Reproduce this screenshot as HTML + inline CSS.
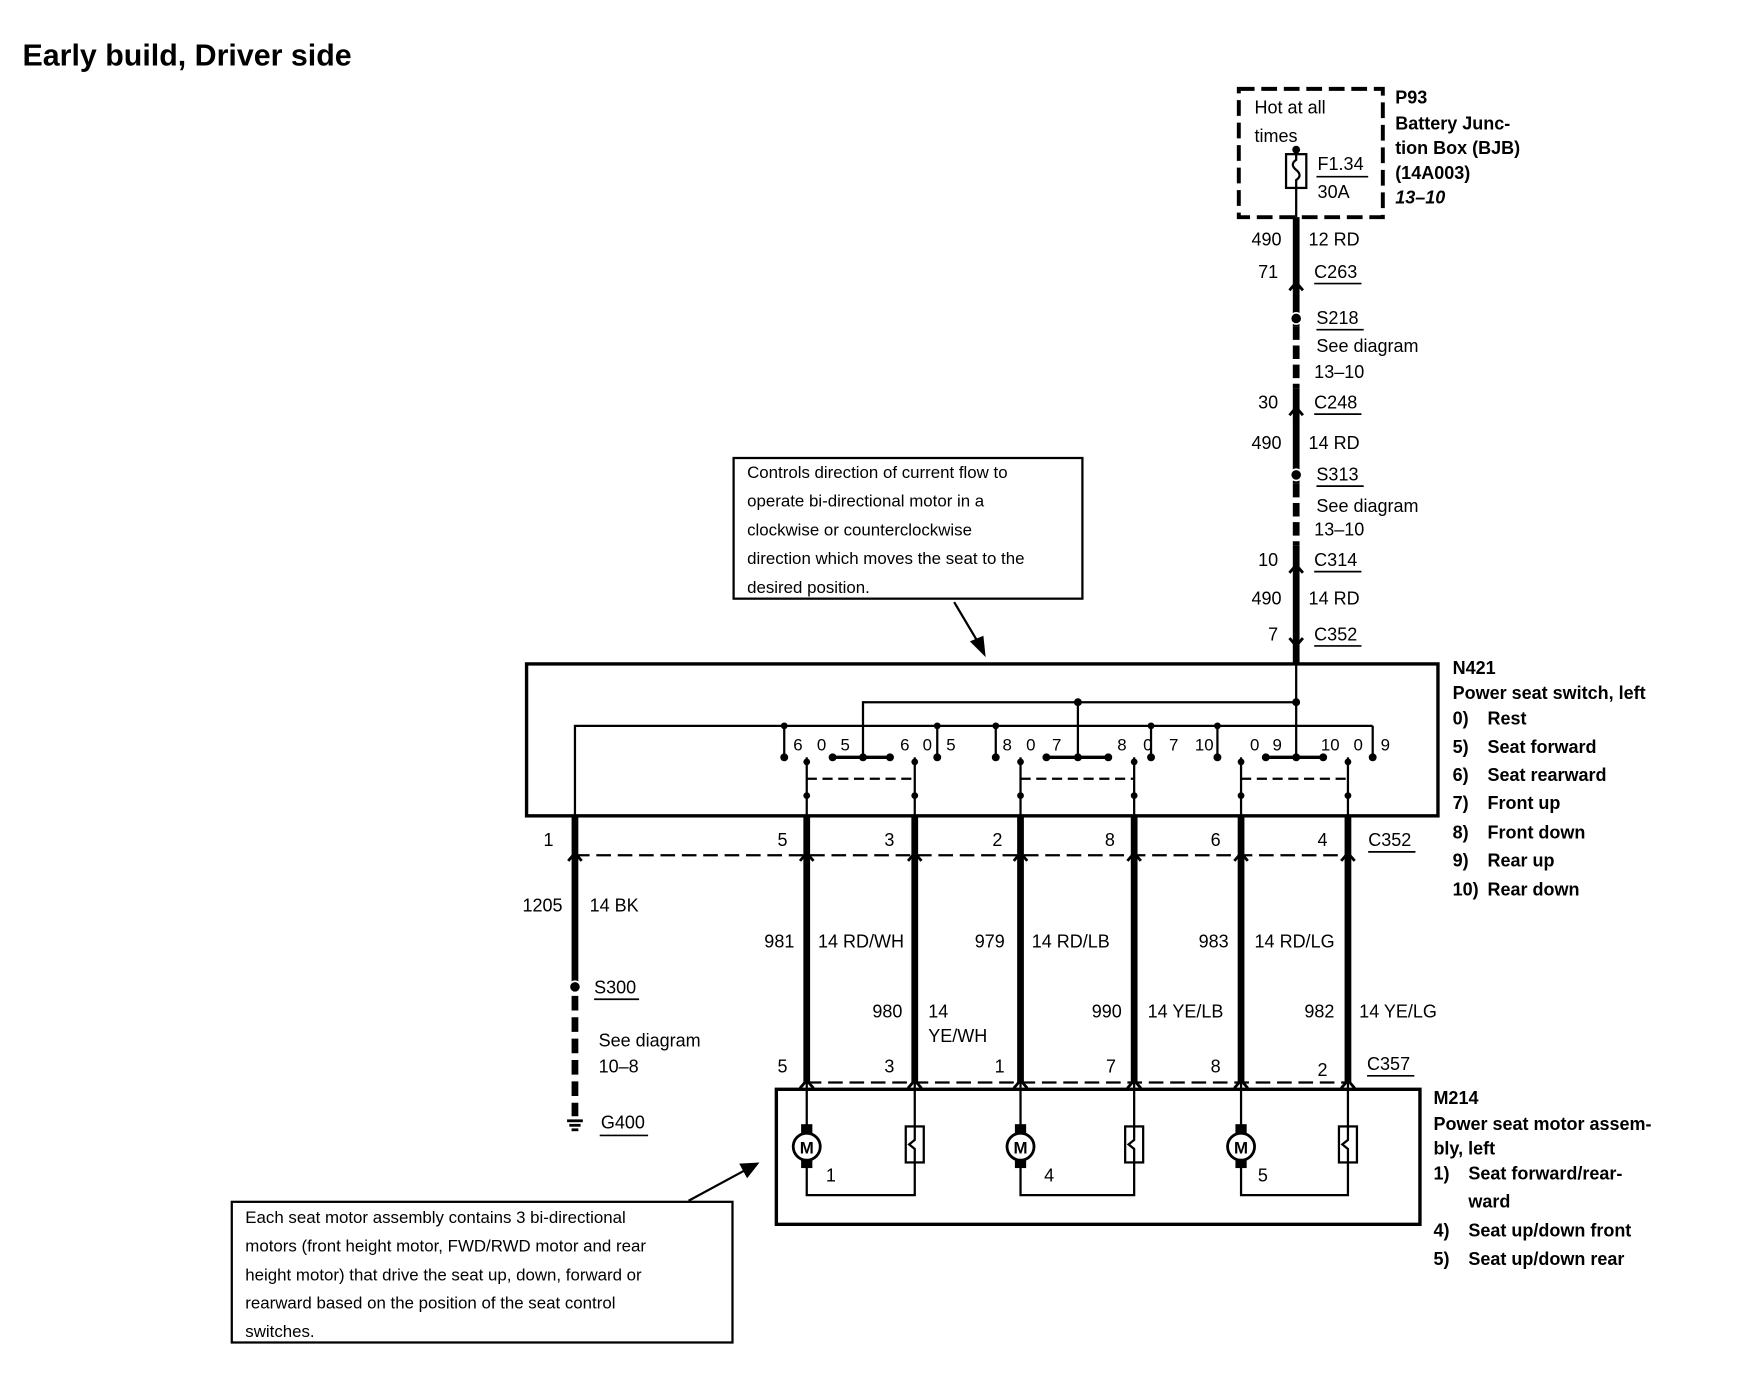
<!DOCTYPE html>
<html><head><meta charset="utf-8"><style>
html,body{margin:0;padding:0;background:#fff;width:1762px;height:1392px;overflow:hidden}
svg{display:block}
text{font-family:"Liberation Sans",sans-serif;fill:#000}
.t{font-size:16px}
.b{font-size:16px;font-weight:bold}
.s{font-size:15px}
</style></head><body>
<svg width="1762" height="1392" viewBox="0 0 1566 1237" preserveAspectRatio="none" xmlns="http://www.w3.org/2000/svg">
<text x="20" y="58" style="font-size:27px;font-weight:bold">Early build, Driver side</text>

<!-- BJB -->
<rect x="1101" y="79" width="128" height="114" fill="none" stroke="#000" stroke-width="3.5" stroke-dasharray="14,6"/>
<text class="t" x="1115" y="101">Hot at all</text>
<text class="t" x="1115" y="126">times</text>
<circle cx="1152" cy="133" r="3.5"/>
<rect x="1143" y="137" width="18" height="30" fill="none" stroke="#000" stroke-width="2"/>
<path d="M1152 133 V142 Q1146 146 1152 151 Q1158 156 1152 160 V193" fill="none" stroke="#000" stroke-width="2"/>
<text class="t" x="1171" y="151">F1.34</text>
<line x1="1170" y1="157" x2="1216" y2="157" stroke="#000" stroke-width="1.5"/>
<text class="t" x="1171" y="176">30A</text>
<text class="b" x="1240" y="92">P93</text>
<text class="b" x="1240" y="115">Battery Junc-</text>
<text class="b" x="1240" y="137">tion Box (BJB)</text>
<text class="b" x="1240" y="159">(14A003)</text>
<text class="b" x="1240" y="181" font-style="italic">13–10</text>

<!-- main feed wire -->
<g stroke="#000" stroke-width="6" fill="none">
<line x1="1152" y1="193" x2="1152" y2="290"/>
<line x1="1152" y1="290" x2="1152" y2="345" stroke-dasharray="12,5"/>
<line x1="1152" y1="345" x2="1152" y2="430"/>
<line x1="1152" y1="430" x2="1152" y2="485" stroke-dasharray="12,5"/>
<line x1="1152" y1="485" x2="1152" y2="590"/>
</g>
<g stroke="#000" stroke-width="2.5" fill="none">
<polyline points="1146,258 1152,251 1158,258"/>
<polyline points="1146,369 1152,362 1158,369"/>
<polyline points="1146,509 1152,502 1158,509"/>
<polyline points="1146,567 1152,574 1158,567"/>
</g>
<circle cx="1152" cy="283" r="5" stroke="#fff" stroke-width="1.5"/>
<circle cx="1152" cy="422" r="5" stroke="#fff" stroke-width="1.5"/>
<g class="t">
<text class="t" x="1139" y="218" text-anchor="end">490</text><text class="t" x="1163" y="218">12 RD</text>
<text class="t" x="1136" y="247" text-anchor="end">71</text><text class="t" x="1168" y="247">C263</text>
<text class="t" x="1170" y="288">S218</text>
<text class="t" x="1170" y="313">See diagram</text>
<text class="t" x="1168" y="336">13–10</text>
<text class="t" x="1136" y="363" text-anchor="end">30</text><text class="t" x="1168" y="363">C248</text>
<text class="t" x="1139" y="399" text-anchor="end">490</text><text class="t" x="1163" y="399">14 RD</text>
<text class="t" x="1170" y="427">S313</text>
<text class="t" x="1170" y="455">See diagram</text>
<text class="t" x="1168" y="476">13–10</text>
<text class="t" x="1136" y="503" text-anchor="end">10</text><text class="t" x="1168" y="503">C314</text>
<text class="t" x="1139" y="537" text-anchor="end">490</text><text class="t" x="1163" y="537">14 RD</text>
<text class="t" x="1136" y="569" text-anchor="end">7</text><text class="t" x="1168" y="569">C352</text>
</g>
<g stroke="#000" stroke-width="1.5">
<line x1="1168" y1="252" x2="1210" y2="252"/>
<line x1="1170" y1="293" x2="1212" y2="293"/>
<line x1="1168" y1="368" x2="1210" y2="368"/>
<line x1="1170" y1="432" x2="1212" y2="432"/>
<line x1="1168" y1="508" x2="1210" y2="508"/>
<line x1="1168" y1="574" x2="1210" y2="574"/>
</g>

<!-- note 1 -->
<rect x="652" y="407" width="310" height="125" fill="none" stroke="#000" stroke-width="2"/>
<text class="s" x="664" y="425">Controls direction of current flow to</text>
<text class="s" x="664" y="450">operate bi-directional motor in a</text>
<text class="s" x="664" y="476">clockwise or counterclockwise</text>
<text class="s" x="664" y="501">direction which moves the seat to the</text>
<text class="s" x="664" y="527">desired position.</text>
<line x1="848" y1="535" x2="870" y2="572" stroke="#000" stroke-width="2"/>
<polygon points="876,584 862,570 874,565"/>

<!-- N421 box -->
<rect x="468" y="590" width="810" height="135" fill="none" stroke="#000" stroke-width="3"/>
<g stroke="#000" stroke-width="2" fill="none">
<polyline points="767,673 767,624 1152,624"/>
<line x1="958" y1="624" x2="958" y2="673"/>
<line x1="1152" y1="590" x2="1152" y2="673"/>
<polyline points="511,725 511,645 1220,645"/>
<line x1="697" y1="645" x2="697" y2="673"/>
<line x1="833" y1="645" x2="833" y2="673"/>
<line x1="885" y1="645" x2="885" y2="673"/>
<line x1="1023" y1="645" x2="1023" y2="673"/>
<line x1="1082" y1="645" x2="1082" y2="673"/>
<line x1="1220" y1="645" x2="1220" y2="673"/>
<line x1="740" y1="673" x2="791" y2="673" stroke-width="3"/>
<line x1="930" y1="673" x2="985" y2="673" stroke-width="3"/>
<line x1="1125" y1="673" x2="1176" y2="673" stroke-width="3"/>
<line x1="717" y1="673" x2="717" y2="725"/>
<line x1="813" y1="673" x2="813" y2="725"/>
<line x1="907" y1="673" x2="907" y2="725"/>
<line x1="1008" y1="673" x2="1008" y2="725"/>
<line x1="1103" y1="673" x2="1103" y2="725"/>
<line x1="1198" y1="673" x2="1198" y2="725"/>
<g stroke-dasharray="9,5">
<line x1="717" y1="692" x2="813" y2="692"/>
<line x1="907" y1="692" x2="1008" y2="692"/>
<line x1="1103" y1="692" x2="1198" y2="692"/>
</g>
</g>
<g>
<circle cx="958" cy="624" r="3.5"/><circle cx="1152" cy="624" r="3.5"/>
<circle cx="697" cy="645" r="3"/><circle cx="833" cy="645" r="3"/><circle cx="885" cy="645" r="3"/><circle cx="1023" cy="645" r="3"/><circle cx="1082" cy="645" r="3"/>
<circle cx="697" cy="673" r="3.5"/><circle cx="833" cy="673" r="3.5"/><circle cx="885" cy="673" r="3.5"/><circle cx="1023" cy="673" r="3.5"/><circle cx="1082" cy="673" r="3.5"/><circle cx="1220" cy="673" r="3.5"/>
<circle cx="740" cy="673" r="3.5"/><circle cx="767" cy="673" r="3.5"/><circle cx="791" cy="673" r="3.5"/>
<circle cx="930" cy="673" r="3.5"/><circle cx="958" cy="673" r="3.5"/><circle cx="985" cy="673" r="3.5"/>
<circle cx="1125" cy="673" r="3.5"/><circle cx="1152" cy="673" r="3.5"/><circle cx="1176" cy="673" r="3.5"/>
<circle cx="717" cy="677" r="3"/><circle cx="813" cy="677" r="3"/><circle cx="907" cy="677" r="3"/><circle cx="1008" cy="677" r="3"/><circle cx="1103" cy="677" r="3"/><circle cx="1198" cy="677" r="3"/>
<circle cx="717" cy="707" r="3"/><circle cx="813" cy="707" r="3"/><circle cx="907" cy="707" r="3"/><circle cx="1008" cy="707" r="3"/><circle cx="1103" cy="707" r="3"/><circle cx="1198" cy="707" r="3"/>
</g>
<g class="s">
<text class="s" x="705" y="667">6</text><text class="s" x="726" y="667">0</text><text class="s" x="747" y="667">5</text>
<text class="s" x="800" y="667">6</text><text class="s" x="820" y="667">0</text><text class="s" x="841" y="667">5</text>
<text class="s" x="891" y="667">8</text><text class="s" x="912" y="667">0</text><text class="s" x="935" y="667">7</text>
<text class="s" x="993" y="667">8</text><text class="s" x="1016" y="667">0</text><text class="s" x="1039" y="667">7</text><text class="s" x="1062" y="667">10</text>
<text class="s" x="1111" y="667">0</text><text class="s" x="1131" y="667">9</text>
<text class="s" x="1174" y="667">10</text><text class="s" x="1203" y="667">0</text><text class="s" x="1227" y="667">9</text>
</g>
<text class="b" x="1291" y="599">N421</text>
<text class="b" x="1291" y="621">Power seat switch, left</text>
<text class="b" x="1291" y="644">0)</text><text class="b" x="1322" y="644">Rest</text>
<text class="b" x="1291" y="669">5)</text><text class="b" x="1322" y="669">Seat forward</text>
<text class="b" x="1291" y="694">6)</text><text class="b" x="1322" y="694">Seat rearward</text>
<text class="b" x="1291" y="719">7)</text><text class="b" x="1322" y="719">Front up</text>
<text class="b" x="1291" y="745">8)</text><text class="b" x="1322" y="745">Front down</text>
<text class="b" x="1291" y="770">9)</text><text class="b" x="1322" y="770">Rear up</text>
<text class="b" x="1291" y="796">10)</text><text class="b" x="1322" y="796">Rear down</text>

<!-- wires down -->
<g stroke="#000" stroke-width="6">
<line x1="511" y1="725" x2="511" y2="877"/>
<line x1="511" y1="885" x2="511" y2="992" stroke-dasharray="13,6"/>
<line x1="717" y1="725" x2="717" y2="962"/>
<line x1="813" y1="725" x2="813" y2="962"/>
<line x1="907" y1="725" x2="907" y2="962"/>
<line x1="1008" y1="725" x2="1008" y2="962"/>
<line x1="1103" y1="725" x2="1103" y2="962"/>
<line x1="1198" y1="725" x2="1198" y2="962"/>
</g>
<line x1="511" y1="760" x2="1198" y2="760" stroke="#000" stroke-width="2" stroke-dasharray="13,6"/>
<line x1="717" y1="962" x2="1198" y2="962" stroke="#000" stroke-width="2" stroke-dasharray="13,6"/>
<g stroke="#000" stroke-width="2.5" fill="none">
<polyline points="505,765 511,758 517,765"/><polyline points="711,765 717,758 723,765"/><polyline points="807,765 813,758 819,765"/><polyline points="901,765 907,758 913,765"/><polyline points="1002,765 1008,758 1014,765"/><polyline points="1097,765 1103,758 1109,765"/><polyline points="1192,765 1198,758 1204,765"/>
<polyline points="711,967 717,960 723,967"/><polyline points="807,967 813,960 819,967"/><polyline points="901,967 907,960 913,967"/><polyline points="1002,967 1008,960 1014,967"/><polyline points="1097,967 1103,960 1109,967"/><polyline points="1192,967 1198,960 1204,967"/>
</g>
<text class="t" x="483" y="752">1</text><text class="t" x="691" y="752">5</text><text class="t" x="786" y="752">3</text><text class="t" x="882" y="752">2</text><text class="t" x="982" y="752">8</text><text class="t" x="1076" y="752">6</text><text class="t" x="1171" y="752">4</text>
<text class="t" x="1216" y="752">C352</text><line x1="1216" y1="757" x2="1258" y2="757" stroke="#000" stroke-width="1.5"/>
<text class="t" x="500" y="810" text-anchor="end">1205</text><text class="t" x="524" y="810">14 BK</text>
<text class="t" x="706" y="842" text-anchor="end">981</text><text class="t" x="727" y="842">14 RD/WH</text>
<text class="t" x="893" y="842" text-anchor="end">979</text><text class="t" x="917" y="842">14 RD/LB</text>
<text class="t" x="1092" y="842" text-anchor="end">983</text><text class="t" x="1115" y="842">14 RD/LG</text>
<text class="t" x="802" y="904" text-anchor="end">980</text><text class="t" x="825" y="904">14</text><text class="t" x="825" y="926">YE/WH</text>
<text class="t" x="997" y="904" text-anchor="end">990</text><text class="t" x="1020" y="904">14 YE/LB</text>
<text class="t" x="1186" y="904" text-anchor="end">982</text><text class="t" x="1208" y="904">14 YE/LG</text>
<circle cx="511" cy="877" r="5" stroke="#fff" stroke-width="1.5"/>
<text class="t" x="528" y="883">S300</text><line x1="528" y1="888" x2="568" y2="888" stroke="#000" stroke-width="1.5"/>
<text class="t" x="532" y="930">See diagram</text>
<text class="t" x="532" y="953">10–8</text>
<g stroke="#000" stroke-width="2.5"><line x1="504" y1="996" x2="518" y2="996"/><line x1="506" y1="1000" x2="516" y2="1000"/><line x1="508" y1="1004" x2="514" y2="1004"/></g>
<text class="t" x="534" y="1003">G400</text><line x1="533" y1="1009" x2="576" y2="1009" stroke="#000" stroke-width="1.5"/>
<text class="t" x="691" y="953">5</text><text class="t" x="786" y="953">3</text><text class="t" x="884" y="953">1</text><text class="t" x="983" y="953">7</text><text class="t" x="1076" y="953">8</text><text class="t" x="1171" y="956">2</text>
<text class="t" x="1215" y="951">C357</text><line x1="1215" y1="956" x2="1257" y2="956" stroke="#000" stroke-width="1.5"/>

<!-- motor box -->
<rect x="690" y="968" width="572" height="120" fill="none" stroke="#000" stroke-width="3"/>
<g stroke="#000" stroke-width="2" fill="none">
<polyline points="717,962 717,1062 813,1062 813,962"/>
<polyline points="907,962 907,1062 1008,1062 1008,962"/>
<polyline points="1103,962 1103,1062 1198,1062 1198,962"/>
</g>
<g>
<rect x="712" y="999" width="10" height="8"/><rect x="712" y="1030" width="10" height="8"/>
<circle cx="717" cy="1019" r="12" fill="#fff" stroke="#000" stroke-width="2.5"/>
<text x="717" y="1025" text-anchor="middle" style="font-size:15px;font-weight:bold">M</text>
<rect x="902" y="999" width="10" height="8"/><rect x="902" y="1030" width="10" height="8"/>
<circle cx="907" cy="1019" r="12" fill="#fff" stroke="#000" stroke-width="2.5"/>
<text x="907" y="1025" text-anchor="middle" style="font-size:15px;font-weight:bold">M</text>
<rect x="1098" y="999" width="10" height="8"/><rect x="1098" y="1030" width="10" height="8"/>
<circle cx="1103" cy="1019" r="12" fill="#fff" stroke="#000" stroke-width="2.5"/>
<text x="1103" y="1025" text-anchor="middle" style="font-size:15px;font-weight:bold">M</text>
</g>
<g stroke="#000" stroke-width="2" fill="#fff">
<rect x="805" y="1001" width="16" height="32"/><rect x="1000" y="1001" width="16" height="32"/><rect x="1190" y="1001" width="16" height="32"/>
</g>
<g stroke="#000" stroke-width="2" fill="none">
<polyline points="813,1001 813,1013 808,1017 813,1021 813,1033"/>
<polyline points="1008,1001 1008,1013 1003,1017 1008,1021 1008,1033"/>
<polyline points="1198,1001 1198,1013 1193,1017 1198,1021 1198,1033"/>
</g>
<text class="t" x="734" y="1050">1</text><text class="t" x="928" y="1050">4</text><text class="t" x="1118" y="1050">5</text>
<text class="b" x="1274" y="981">M214</text>
<text class="b" x="1274" y="1004">Power seat motor assem-</text>
<text class="b" x="1274" y="1026">bly, left</text>
<text class="b" x="1274" y="1048">1)</text><text class="b" x="1305" y="1048">Seat forward/rear-</text>
<text class="b" x="1305" y="1073">ward</text>
<text class="b" x="1274" y="1099">4)</text><text class="b" x="1305" y="1099">Seat up/down front</text>
<text class="b" x="1274" y="1124">5)</text><text class="b" x="1305" y="1124">Seat up/down rear</text>

<!-- note 2 -->
<rect x="206" y="1068" width="445" height="125" fill="none" stroke="#000" stroke-width="2"/>
<text class="s" x="218" y="1087">Each seat motor assembly contains 3 bi-directional</text>
<text class="s" x="218" y="1112">motors (front height motor, FWD/RWD motor and rear</text>
<text class="s" x="218" y="1138">height motor) that drive the seat up, down, forward or</text>
<text class="s" x="218" y="1163">rearward based on the position of the seat control</text>
<text class="s" x="218" y="1188">switches.</text>
<line x1="612" y1="1067" x2="662" y2="1040" stroke="#000" stroke-width="2"/>
<polygon points="675,1033 657,1034 664,1047"/>
</svg>
</body></html>
